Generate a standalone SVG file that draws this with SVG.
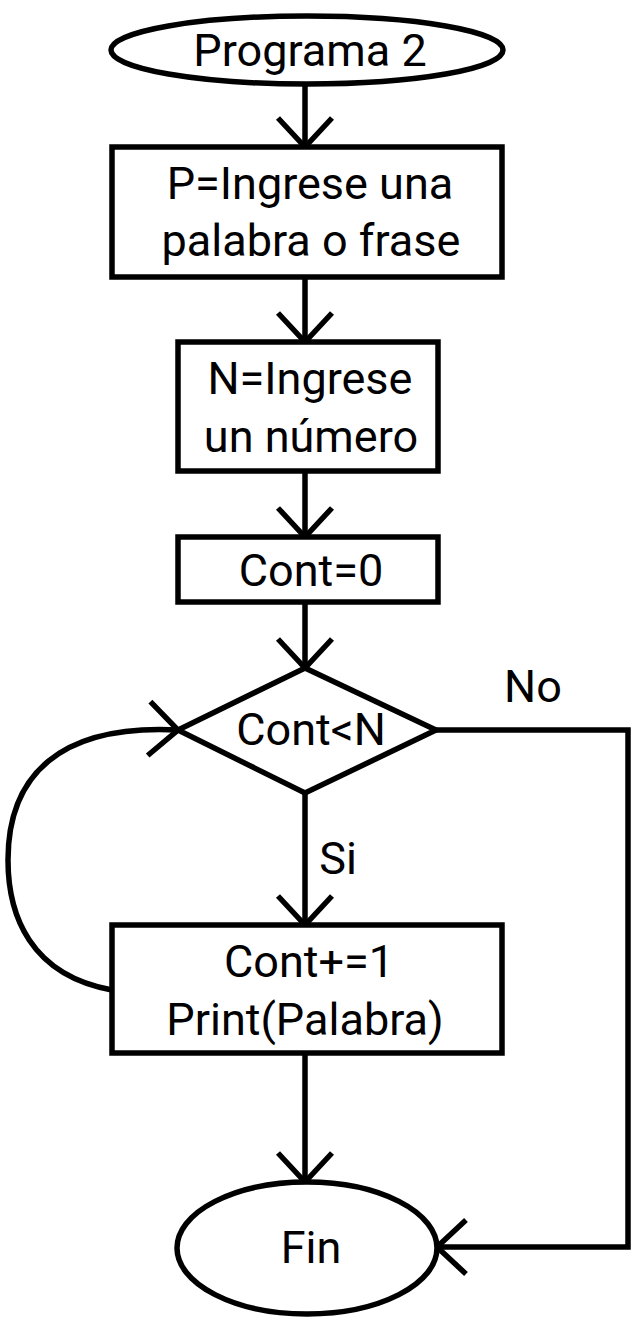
<svg xmlns="http://www.w3.org/2000/svg" width="639" height="1328" viewBox="0 0 639 1328">
<style>
.s{fill:#fff;stroke:#000;stroke-width:5.5;stroke-linejoin:miter}
.c{fill:none;stroke:#000;stroke-width:5.5;stroke-linejoin:miter}
.t{font-family:Roboto,"Liberation Sans",sans-serif;font-size:45px;fill:#000;text-anchor:middle}
</style>
<defs>
<marker id="ah" markerUnits="userSpaceOnUse" markerWidth="80" markerHeight="80" refX="0" refY="0" orient="auto" overflow="visible">
<path d="M-29,-27 L0,0 L-29,27" fill="none" stroke="#000" stroke-width="5.5" stroke-linecap="butt"/>
</marker>
</defs>
<rect width="639" height="1328" fill="#fff"/>
<g id="connectors">
<path class="c" d="M305,84 V147" marker-end="url(#ah)"/>
<path class="c" d="M305,277 V342" marker-end="url(#ah)"/>
<path class="c" d="M305,471 V537" marker-end="url(#ah)"/>
<path class="c" d="M305,602 V668" marker-end="url(#ah)"/>
<path class="c" d="M305,793 V925" marker-end="url(#ah)"/>
<path class="c" d="M436,730 H628 V1247 H437" marker-end="url(#ah)"/>
<path class="c" d="M305,1053 V1182" marker-end="url(#ah)"/>
<path class="c" d="M112,990 C30,975 8,915 8,860 C8,775 60,724 178,730" marker-end="url(#ah)"/>
<text class="t" x="533" y="702">No</text>
<text class="t" x="338" y="874">Si</text>
</g>
<g id="start">
<ellipse class="s" cx="307" cy="50" rx="196" ry="34"/>
<text class="t" x="310" y="66">Programa 2</text>
</g>
<g id="input-p">
<rect class="s" x="112" y="147" width="390" height="130"/>
<text class="t" x="310" y="199">P=Ingrese una</text>
<text class="t" x="311" y="256">palabra o frase</text>
</g>
<g id="input-n">
<rect class="s" x="178" y="342" width="260" height="129"/>
<text class="t" x="310" y="394">N=Ingrese</text>
<text class="t" x="311" y="452">un número</text>
</g>
<g id="init">
<rect class="s" x="178" y="537" width="260" height="65"/>
<text class="t" x="311" y="586">Cont=0</text>
</g>
<g id="decision">
<polygon class="s" points="305,668 436,730 305,793 178,730"/>
<text class="t" x="311" y="745">Cont&lt;N</text>
</g>
<g id="body">
<rect class="s" x="112" y="925" width="390" height="128"/>
<text class="t" x="309" y="977">Cont+=1</text>
<text class="t" x="305" y="1035">Print(Palabra)</text>
</g>
<g id="end">
<ellipse class="s" cx="307" cy="1248" rx="130" ry="66"/>
<text class="t" x="311" y="1263">Fin</text>
</g>
</svg>
